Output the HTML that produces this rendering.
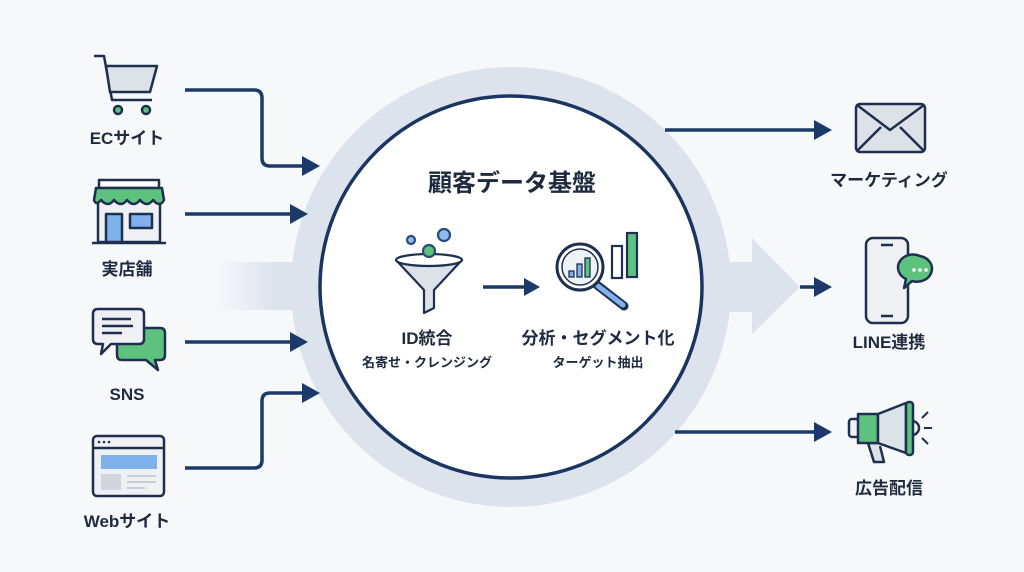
<!DOCTYPE html>
<html><head><meta charset="utf-8"><style>
html,body{margin:0;padding:0;background:#f7f8fa;}
svg{display:block}
text{font-family:"Liberation Sans","Noto Sans CJK JP",sans-serif;font-weight:bold;fill:#1e2a3e;text-anchor:middle}
</style></head><body>
<svg width="1024" height="572" viewBox="0 0 1024 572" xmlns="http://www.w3.org/2000/svg">
<defs>
<linearGradient id="lg" x1="0" x2="1" y1="0" y2="0">
<stop offset="0" stop-color="#dde3ec" stop-opacity="0"/>
<stop offset="0.6" stop-color="#dde3ec" stop-opacity="1"/>
</linearGradient>
<marker id="ah" viewBox="0 0 10 10" refX="9" refY="5" markerWidth="5" markerHeight="5" orient="auto" markerUnits="userSpaceOnUse">
</marker>
</defs>
<rect width="1024" height="572" fill="#f7f8fa"/>
<!-- bands -->
<rect x="215" y="262" width="100" height="48" fill="url(#lg)"/>
<rect x="700" y="262" width="56" height="50" fill="#dde3ec"/>
<polygon points="752,238 800,287 752,334" fill="#dde3ec"/>
<!-- rings -->
<circle cx="511" cy="287" r="206" fill="none" stroke="#dde3ec" stroke-width="28"/>
<circle cx="511" cy="287" r="191" fill="#fff" stroke="#1b3561" stroke-width="3.5"/>
<g stroke="#1b3a6b" stroke-width="3.5" fill="none" stroke-linejoin="round">
<path d="M185 90 H254 Q262 90 262 98 V158 Q262 166 270 166 H306"/>
<path d="M185 214 H294"/>
<path d="M185 342 H294"/>
<path d="M185 468 H254 Q262 468 262 460 V401 Q262 393 270 393 H306"/>
<path d="M665 130 H818"/>
<path d="M800 287 H818"/>
<path d="M675 432 H818"/>
<path d="M483 287 H526"/>
</g>
<g fill="#1b3a6b">
<polygon points="302,156 320,166 302,176"/>
<polygon points="290,204 308,214 290,224"/>
<polygon points="290,332 308,342 290,352"/>
<polygon points="302,383 320,393 302,403"/>
<polygon points="814,120 832,130 814,140"/>
<polygon points="814,277 832,287 814,297"/>
<polygon points="814,422 832,432 814,442"/>
<polygon points="524,278 540,287 524,296"/>
</g>
<!-- center text -->
<text x="512" y="191" font-size="24" fill="#1e2f4f">顧客データ基盤</text>
<text x="427" y="344" font-size="17">ID統合</text>
<text x="427" y="367" font-size="13" font-weight="normal">名寄せ・クレンジング</text>
<text x="598" y="344" font-size="17">分析・セグメント化</text>
<text x="598" y="367" font-size="13" font-weight="normal">ターゲット抽出</text>
<!-- funnel -->
<g stroke="#1e2f4f" stroke-width="2.2" stroke-linejoin="round">
<path d="M396 260 L424 290 L424 313 L434 308 L434 290 L462 260 Z" fill="#dde1e8"/>
<ellipse cx="429" cy="260" rx="33" ry="6" fill="#fff"/>
<circle cx="411" cy="240" r="4" fill="#8ebcf0" stroke="#2a4a7a"/>
<circle cx="444" cy="235" r="6" fill="#8ebcf0" stroke="#2a4a7a"/>
<circle cx="429" cy="251" r="6" fill="#5cc27e" stroke="#2a4a7a"/>
</g>
<!-- magnifier -->
<g stroke="#1e2f4f" stroke-width="2.2">
<rect x="612" y="246" width="10" height="32" fill="#fff"/>
<rect x="627" y="233" width="10" height="44" fill="#5cc27e"/>
<line x1="597" y1="285" x2="624" y2="306" stroke-width="9" stroke-linecap="round"/>
<line x1="598" y1="286" x2="623" y2="305" stroke="#7fb2ea" stroke-width="5" stroke-linecap="round"/>
<circle cx="580" cy="267" r="23" fill="#fff" stroke-width="3"/>
<circle cx="580" cy="267" r="18" fill="#eef1f5" stroke-width="1.5"/>
<rect x="569" y="271" width="5" height="6" fill="#7fb2ea" stroke-width="1.3"/>
<rect x="577" y="264" width="5" height="13" fill="#7fb2ea" stroke-width="1.3"/>
<rect x="585" y="258" width="5" height="19" fill="#5cc27e" stroke-width="1.3"/>
</g>
<!-- left icons -->
<g stroke="#1e2f4f" stroke-width="2.5" fill="none" stroke-linejoin="round">
<!-- cart -->
<path d="M94 56 H104 L112 100 H152"/>
<path d="M106 66 H157 L150 92 H110 Z" fill="#dde1e8"/>
<circle cx="118" cy="110" r="4" fill="#5cc27e"/>
<circle cx="146" cy="110" r="4" fill="#5cc27e"/>
<!-- store -->
<rect x="98" y="198" width="62" height="44" fill="#eef0f4"/>
<rect x="99" y="180" width="60" height="8" fill="#fff"/>
<path d="M96 188 H162 L164 200 Q160 208 153 200 Q147 208 140 200 Q134 208 127 200 Q121 208 114 200 Q108 208 101 200 Q96 206 94 200 Z" fill="#5cc27e"/>
<rect x="106" y="214" width="16" height="28" fill="#7fb2ea"/>
<rect x="130" y="214" width="22" height="14" fill="#7fb2ea"/>
<line x1="92" y1="243" x2="166" y2="243"/>
<!-- sns -->
<path d="M122 328 H160 Q165 328 165 333 V355 Q165 360 160 360 H155 L158 370 L146 360 H122 Q117 360 117 355 V333 Q117 328 122 328 Z" fill="#5cc27e"/>
<path d="M98 309 H139 Q144 309 144 314 V339 Q144 344 139 344 H111 L101 354 L103 344 H98 Q93 344 93 339 V314 Q93 309 98 309 Z" fill="#eef0f4"/>
<line x1="102" y1="319" x2="131" y2="319"/>
<line x1="102" y1="326" x2="133" y2="326"/>
<line x1="102" y1="333" x2="122" y2="333"/>
<!-- browser -->
<rect x="93" y="436" width="71" height="60" rx="4" fill="#eef0f4"/>
<line x1="93" y1="448" x2="164" y2="448"/>
<rect x="101" y="455" width="56" height="14" fill="#7fb2ea" stroke="none"/>
<rect x="101" y="474" width="20" height="16" fill="#d0d5de" stroke="none"/>
<line x1="127" y1="476" x2="156" y2="476" stroke="#c8ced8" stroke-width="2"/>
<line x1="127" y1="482" x2="156" y2="482" stroke="#c8ced8" stroke-width="2"/>
<line x1="127" y1="488" x2="145" y2="488" stroke="#c8ced8" stroke-width="2"/>
</g>
<g fill="#1e2f4f"><circle cx="99" cy="442" r="1.3"/><circle cx="104" cy="442" r="1.3"/><circle cx="109" cy="442" r="1.3"/></g>
<text x="127" y="144" font-size="17">ECサイト</text>
<text x="127" y="275" font-size="17">実店舗</text>
<text x="127" y="400" font-size="17">SNS</text>
<text x="127" y="527" font-size="17">Webサイト</text>
<!-- right icons -->
<g stroke="#1e2f4f" stroke-width="2.5" fill="none" stroke-linejoin="round">
<rect x="856" y="104" width="69" height="48" rx="4" fill="#dde1e8"/>
<path d="M857 105 L890 130 L924 105"/>
<path d="M857 151 L881 127 M924 151 L900 127"/>
<rect x="866" y="238" width="42" height="85" rx="7" fill="#eef0f4"/>
<line x1="881" y1="245" x2="893" y2="245"/>
<line x1="881" y1="316" x2="893" y2="316"/>
<path d="M920 256 A15 13 0 1 1 912 281 L904 288 L906 279 A15 13 0 0 1 920 256 Z" fill="#5cc27e"/>
<path d="M878 443 L868 443 L874 462 L884 462 L880 446" fill="#dde1e8"/>
<rect x="849" y="419" width="10" height="18" rx="3" fill="#eef0f4"/>
<rect x="858" y="414" width="20" height="29" fill="#5cc27e"/>
<path d="M878 414 L906 403 L906 453 L878 443 Z" fill="#dde1e8"/>
<path d="M912 421 A7 7 0 0 1 912 435"/>
<rect x="906" y="402" width="7" height="53" rx="3" fill="#5cc27e"/>
<path d="M922 418 L928 412 M924 428 H932 M922 438 L928 444" stroke-width="2"/>
</g>
<g fill="#fff"><circle cx="914" cy="270" r="1.8"/><circle cx="920" cy="270" r="1.8"/><circle cx="926" cy="270" r="1.8"/></g>
<text x="889" y="186" font-size="17">マーケティング</text>
<text x="889" y="348" font-size="17">LINE連携</text>
<text x="889" y="494" font-size="17">広告配信</text>
</svg>
</body></html>
